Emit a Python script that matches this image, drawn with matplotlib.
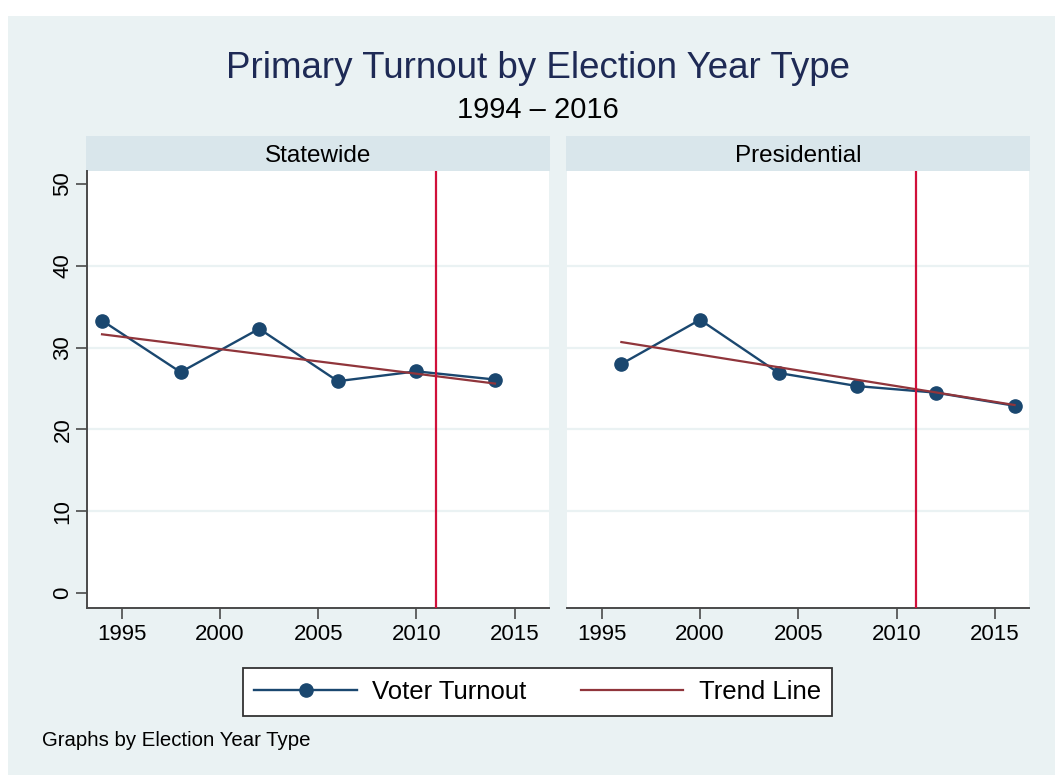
import numpy as np
import matplotlib
matplotlib.use("Agg")
import matplotlib.pyplot as plt
from matplotlib.patches import Rectangle
from matplotlib.lines import Line2D

plt.rcParams['font.family'] = ['Liberation Sans', 'DejaVu Sans']

# Primary turnout (%) by election year type
statewide_years = [1994, 1998, 2002, 2006, 2010, 2014]
statewide_turnout = [33.3, 27.0, 32.3, 25.9, 27.1, 26.1]
presidential_years = [1996, 2000, 2004, 2008, 2012, 2016]
presidential_turnout = [28.0, 33.4, 26.9, 25.3, 24.5, 22.9]
panel_titles = ["Statewide", "Presidential"]
marker_year = 2011
x_ticks = [1995, 2000, 2005, 2010, 2015]
y_ticks = [0, 10, 20, 30, 40, 50]
grid_levels = [10, 20, 30, 40]

W, H = 1055, 775
BG = "#EAF2F3"
STRIP = "#D9E6EB"
NAVY = "#1A476F"
MAROON = "#90353B"
CRIMSON = "#D0103A"
AXIS = "#4a4a4a"

fig = plt.figure(figsize=(W / 100, H / 100), dpi=100, facecolor="white")


def px_axes(x0, y0, x1, y1, **kw):
    return fig.add_axes([x0 / W, 1 - y1 / H, (x1 - x0) / W, (y1 - y0) / H], **kw)


# outer graph region
fig.patches.append(Rectangle((8 / W, 0), 1 - 8 / W, 1 - 16 / H,
                             transform=fig.transFigure, facecolor=BG,
                             edgecolor="none", zorder=-10))

fig.text(538 / W, 1 - 65 / H, "Primary Turnout by Election Year Type",
         ha="center", va="center_baseline", fontsize=26.5, color="#1E2A55")
fig.text(538 / W, 1 - 107 / H, "1994 \u2013 2016",
         ha="center", va="center_baseline", fontsize=21, color="black")

panels = [
    (87.3, 549.0, statewide_years, statewide_turnout, True),
    (567.3, 1029.3, presidential_years, presidential_turnout, False),
]
top, bottom = 170.7, 607.7

for (x0, x1, yrs, vals, show_y), title in zip(panels, panel_titles):
    # strip header
    sax = px_axes(x0 - 1, 136, x1 + 1, top)
    sax.set_facecolor(STRIP)
    sax.set_xticks([]); sax.set_yticks([])
    for s in sax.spines.values():
        s.set_visible(False)
    sax.text(0.5, 0.5, title, ha="center", va="center_baseline", fontsize=17.5,
             transform=sax.transAxes)

    ax = px_axes(x0, top, x1, bottom)
    ax.set_facecolor("white")
    ax.set_xlim(1993.25, 2016.75)
    ax.set_ylim(-1.76, 51.6)
    for g in grid_levels:
        ax.axhline(g, color=BG, lw=1.6, zorder=1)

    coef = np.polyfit(yrs, vals, 1)
    trend = np.polyval(coef, yrs)
    ax.plot(yrs, vals, color=NAVY, lw=1.7, marker="o", markersize=9.5,
            zorder=3)
    ax.plot(yrs, trend, color=MAROON, lw=1.6, zorder=4)
    ax.axvline(marker_year, color=CRIMSON, lw=1.6, zorder=5)

    ax.spines["top"].set_visible(False)
    ax.spines["right"].set_visible(False)
    ax.spines["bottom"].set_color(AXIS)
    ax.spines["bottom"].set_linewidth(1.4)
    ax.set_xticks(x_ticks)
    ax.tick_params(axis="x", length=8, width=1.2, color=AXIS,
                   labelsize=16, pad=4)
    if show_y:
        ax.spines["left"].set_color(AXIS)
        ax.spines["left"].set_linewidth(1.4)
        ax.set_yticks(y_ticks)
        ax.tick_params(axis="y", length=8, width=1.2, color=AXIS,
                       labelsize=16, pad=2)
        for lab in ax.get_yticklabels():
            lab.set_rotation(90)
            lab.set_va("center")
    else:
        ax.spines["left"].set_visible(False)
        ax.set_yticks([])

handles = [
    Line2D([], [], color=NAVY, lw=1.7, marker="o", markersize=9.5),
    Line2D([], [], color=MAROON, lw=1.6),
]
leg = fig.legend(handles, ["Voter Turnout", "Trend Line"], ncol=2,
                 loc="center", bbox_to_anchor=(537.5 / W, 1 - 692 / H),
                 fontsize=18.5, frameon=True, fancybox=False,
                 handlelength=4.0, handletextpad=0.6, columnspacing=2.1,
                 borderpad=0.45, framealpha=1)
leg.get_frame().set_edgecolor("#333333")
leg.get_frame().set_facecolor("white")
leg.get_frame().set_linewidth(1.3)

fig.text(42 / W, 1 - 741 / H, "Graphs by Election Year Type",
         ha="left", va="center", fontsize=14.7)

fig.savefig("out.png", dpi=100, facecolor="white")
